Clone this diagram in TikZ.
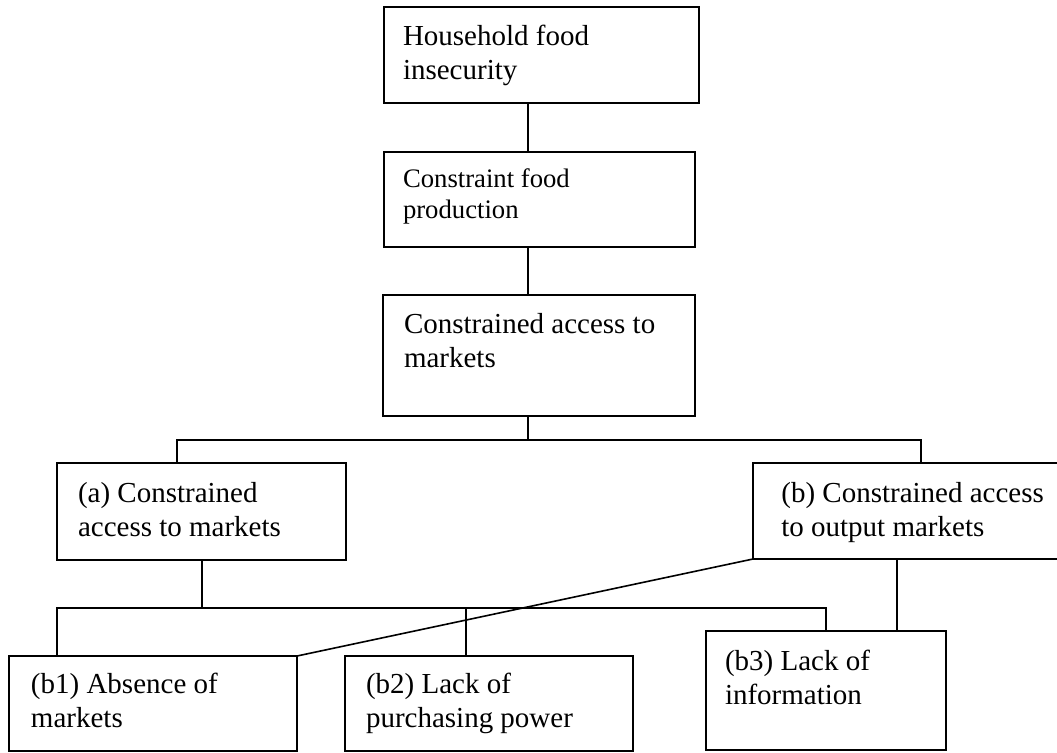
\documentclass[tikz,border=0pt]{standalone}
\usepackage{fontspec}
\setmainfont{Liberation Serif}

% text block inside a box: width, height, left padding, first-baseline drop, text
\newcommand\boxtxt[5]{\parbox[t][#2][t]{#1}{\raggedright\setlength\leftskip{#3}\rule{0pt}{#4}#5}}

\tikzset{
  blk/.style={draw, line width=1.1pt, anchor=north west, inner sep=0pt, outer sep=0pt,
              font=\fontsize{14.5pt}{17pt}\selectfont},
  blksmall/.style={blk, font=\fontsize{13.35pt}{15.5pt}\selectfont},
  link/.style={line width=0.8pt},
}

\begin{document}
\begin{tikzpicture}[x=0.5pt, y=-0.5pt]
  \clip (0,0) rectangle (1057,752);
  \fill[white] (0,0) rectangle (1057,752);

  % boxes
  \node[blk] (n1) at (384,7)
    {\boxtxt{157.5pt}{48pt}{9.5pt}{19pt}{Household food\\insecurity}};
  \node[blksmall] (n2) at (384,152)
    {\boxtxt{155.5pt}{47.5pt}{9.5pt}{17.5pt}{Constraint food\\production}};
  \node[blk] (n3) at (383,295)
    {\boxtxt{156pt}{60.5pt}{10.5pt}{19pt}{Constrained access to\\markets}};
  \node[blk] (na) at (57,463)
    {\boxtxt{144.5pt}{48.5pt}{10.5pt}{19.5pt}{(a) Constrained\\access to markets}};
  \node[blk] (nb) at (753,463)
    {\boxtxt{165pt}{48pt}{14.2pt}{19.5pt}{(b) Constrained access\\to output markets}};
  \node[blk] (b1) at (9,656)
    {\boxtxt{144pt}{47.5pt}{11pt}{18.5pt}{(b1) Absence of\\markets}};
  \node[blk] (b2) at (345,656)
    {\boxtxt{144pt}{47.5pt}{10.5pt}{18.5pt}{(b2) Lack of\\purchasing power}};
  \node[blk] (b3) at (706,631)
    {\boxtxt{120pt}{59.5pt}{9.5pt}{19.5pt}{(b3) Lack of\\information}};

  % branch points
  \coordinate (trunk) at (528,440);
  \coordinate (aL) at (177,440);
  \coordinate (bR) at (921,440);
  \coordinate (ca) at (202,608);
  \coordinate (cL) at (57,608);
  \coordinate (cR) at (826,608);
  \coordinate (c2) at (466,608);
  \coordinate (db) at (897,0);

  % main chain
  \draw[link] (n1.south -| trunk) -- (n2.north -| trunk);
  \draw[link] (n2.south -| trunk) -- (n3.north -| trunk);
  \draw[link] (n3.south -| trunk) -- (trunk);
  \draw[link] (na.north -| aL) -- (aL) -- (bR) -- (nb.north -| bR);

  % second level
  \draw[link] (na.south -| ca) -- (ca);
  \draw[link] (b1.north -| cL) -- (cL) -- (cR) -- (b3.north -| cR);
  \draw[link] (c2) -- (b2.north -| c2);
  \draw[link] (nb.south -| db) -- (b3.north -| db);
  \draw[link] (nb.south west) -- (b1.north east);
\end{tikzpicture}
\end{document}
